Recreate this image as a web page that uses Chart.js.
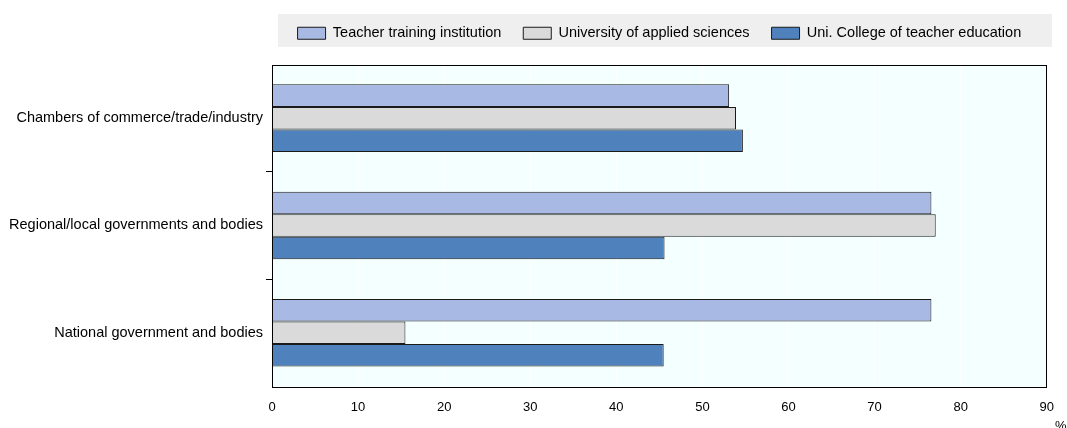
<!DOCTYPE html>
<html><head><meta charset="utf-8">
<script src="https://cdn.jsdelivr.net/npm/chart.js@4.4.1/dist/chart.umd.min.js"></script>
<style>html,body{margin:0;padding:0;background:#fff}#wrap{width:1067px;height:428px;position:relative}</style>
</head><body><div id="wrap"><canvas id="c" width="1067" height="428"></canvas></div>
<script>
const categories = ["Chambers of commerce/trade/industry", "Regional/local governments and bodies", "National government and bodies"];
const teacherTraining = [53.1, 76.6, 76.6];
const appliedSciences = [53.9, 77.1, 15.5];
const uniCollege = [54.7, 45.6, 45.5];
const xTicks = [0, 10, 20, 30, 40, 50, 60, 70, 80, 90];
const FONT = "'Liberation Sans', Arial, sans-serif";

const bgPlugin = {
  id: 'bg',
  beforeInit(chart) {
    const lg = chart.legend;
    if (lg) {
      const orig = lg.fit;
      lg.fit = function () { orig.call(this); this.height += 14; };
    }
  },
  beforeDraw(chart) {
    const {ctx, chartArea: a} = chart;
    ctx.save();
    ctx.fillStyle = '#f4ffff';
    ctx.fillRect(a.left, a.top, a.right - a.left, a.bottom - a.top);
    ctx.fillStyle = '#efefef';
    ctx.fillRect(278, 14, 774, 33);
    ctx.restore();
  },
  afterDatasetsDraw(chart) {
    const {ctx, chartArea: a} = chart;
    ctx.save();
    ctx.strokeStyle = '#000';
    ctx.lineWidth = 1;
    ctx.strokeRect(Math.round(a.left) + 0.5, Math.round(a.top) + 0.5, Math.round(a.right - a.left) - 1, Math.round(a.bottom - a.top));
    ctx.fillStyle = '#000';
    ctx.font = "13px " + FONT;
    ctx.textAlign = 'left';
    ctx.fillText('%', 1055, 426);
    ctx.restore();
  }
};

Chart.defaults.font.family = FONT;
Chart.defaults.color = '#000';

new Chart(document.getElementById('c'), {
  type: 'bar',
  data: {
    labels: categories,
    datasets: [
      {label: 'Teacher training institution', data: teacherTraining, backgroundColor: '#a8b9e3', borderColor: '#1a1a1a', borderWidth: 1},
      {label: 'University of applied sciences', data: appliedSciences, backgroundColor: '#dadada', borderColor: '#1a1a1a', borderWidth: 1},
      {label: 'Uni. College of teacher education', data: uniCollege, backgroundColor: '#4f81bd', borderColor: '#1a1a1a', borderWidth: 1}
    ]
  },
  plugins: [bgPlugin],
  options: {
    indexAxis: 'y',
    responsive: false,
    animation: false,
    layout: {padding: {left: 0, right: 17, top: 4, bottom: 0}},
    datasets: {bar: {categoryPercentage: 0.63, barPercentage: 1}},
    plugins: {
      tooltip: {enabled: false},
      legend: {
        position: 'top',
        fullSize: false,
        labels: {boxWidth: 28, boxHeight: 12, font: {size: 14.5}, padding: 22, color: '#000'}
      }
    },
    scales: {
      x: {
        min: 0, max: 90,
        afterBuildTicks(scale) { scale.ticks = xTicks.map(v => ({value: v})); },
        grid: {color: '#ffffff', lineWidth: 1, drawTicks: false},
        border: {display: false},
        ticks: {font: {size: 13}, padding: 13, autoSkip: false, maxRotation: 0}
      },
      y: {
        afterFit(scale) { scale.width = 272; },
        grid: {
          offset: true, drawOnChartArea: false, tickLength: 6,
          color: (c) => (c.type !== 'tick' || c.index === 0 || c.index >= categories.length) ? 'rgba(0,0,0,0)' : '#000'
        },
        border: {display: false},
        ticks: {font: {size: 14.5}, padding: 3}
      }
    }
  }
});
</script></body></html>
